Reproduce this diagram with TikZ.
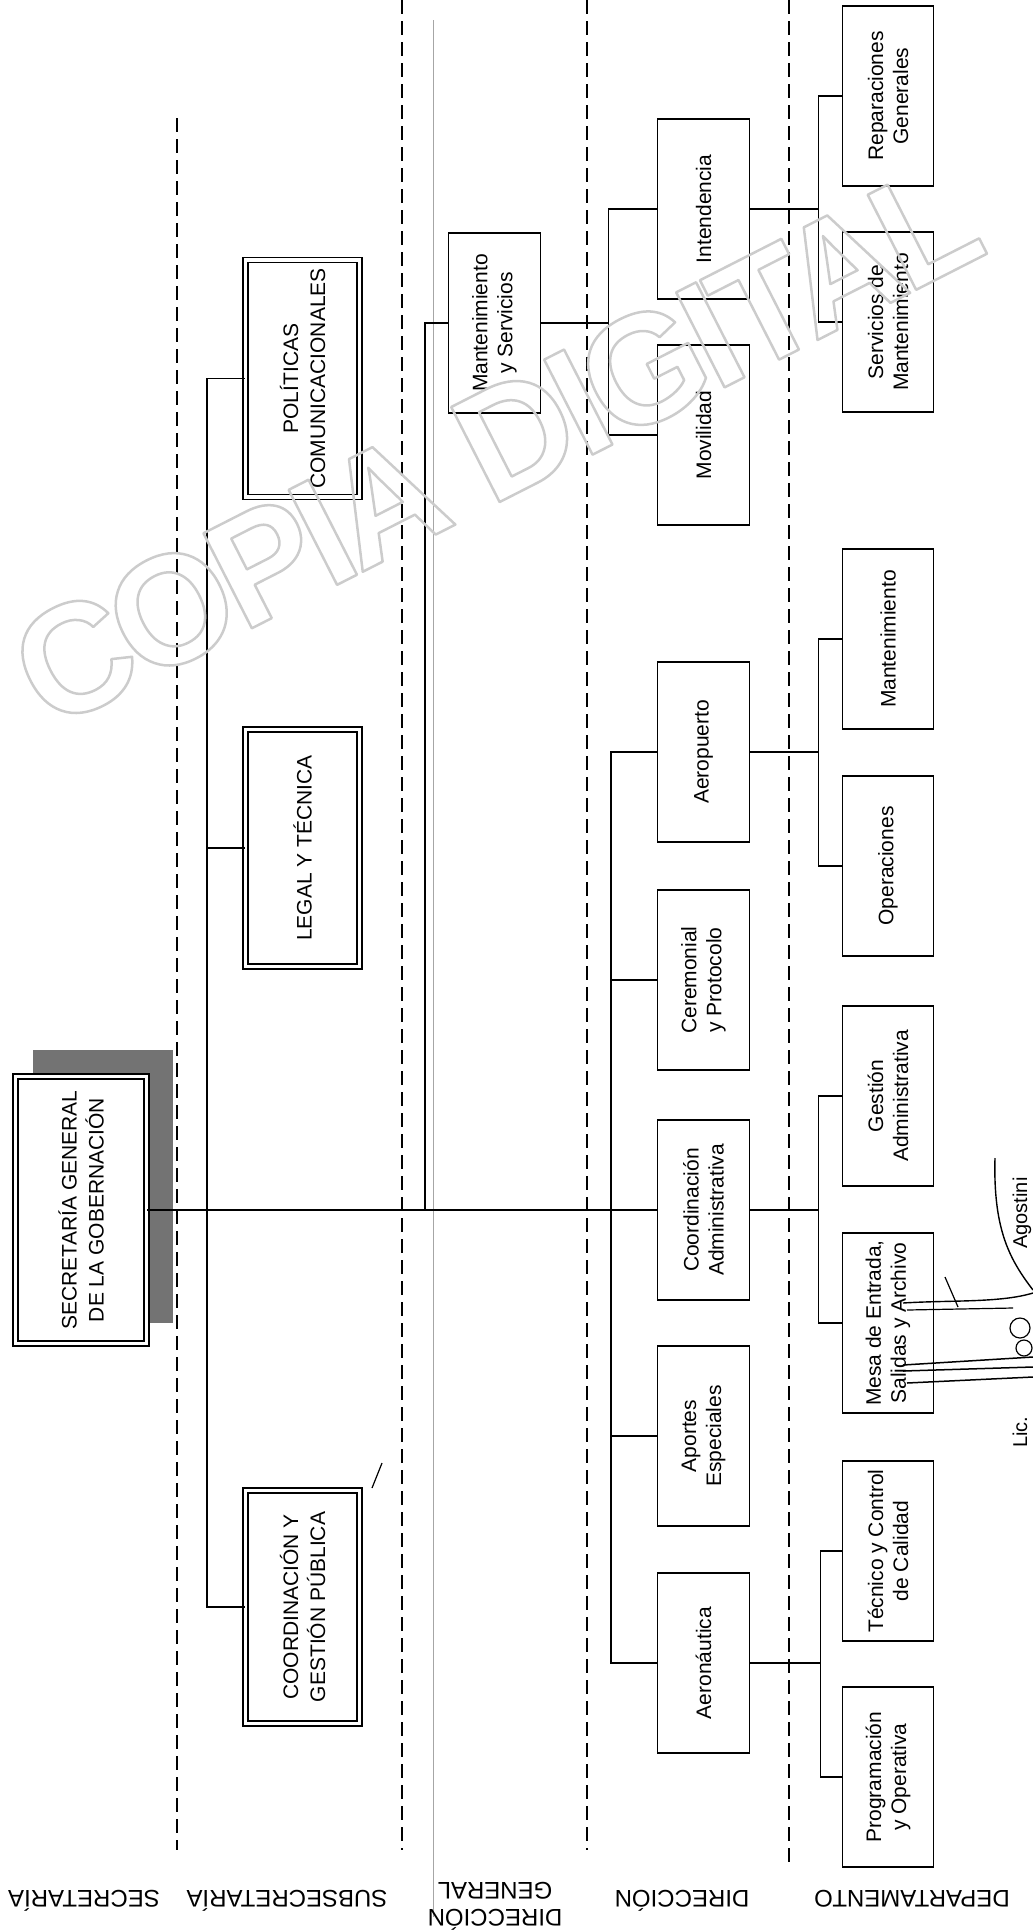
\documentclass[tikz,border=0pt]{standalone}
\usepackage{fontspec}
\setmainfont{Liberation Sans}
\begin{document}
\begin{tikzpicture}[x=1pt,y=-1pt,
  bx/.style={draw, line width=1.6pt, fill=white, rotate=90, align=center, inner sep=1pt,
     font=\fontsize{21}{25}\selectfont, minimum width=180pt, minimum height=91pt},
  dbx/.style={draw, double, double distance=3.6pt, line width=1.5pt, fill=white, rotate=90,
     align=center, inner sep=1pt, font=\fontsize{21}{27}\selectfont},
  conn/.style={line width=1.6pt},
  sepline/.style={line width=2pt, dash pattern=on 14pt off 7pt},
  lvl/.style={rotate=180, font=\fontsize{24}{27}\selectfont, inner sep=0pt},
  sig/.style={line width=1.2pt},
]
\useasboundingbox (0,0) rectangle (1033,1931);

% level separators
\coordinate (d1t) at (177,118);  \coordinate (d1b) at (177,1850);
\coordinate (d2t) at (402,0);    \coordinate (d2b) at (402,1850);
\coordinate (d3t) at (587,0);    \coordinate (d3b) at (587,1850);
\coordinate (d4t) at (789,0);    \coordinate (d4b) at (789,1862);
\draw[sepline] (d1t) -- (d1b);
\draw[sepline] (d2t) -- (d2b);
\draw[sepline] (d3t) -- (d3b);
\draw[sepline] (d4t) -- (d4b);
\draw[black!35, line width=0.6pt] (433,20) -- (433,1917);

% secretaria
\fill[black!55] (33,1050) rectangle (173,1323);
\node[dbx, minimum width=267pt, minimum height=131pt] (sec) at (81,1210) {SECRETARÍA GENERAL\\DE LA GOBERNACIÓN};

% subsecretarias
\node[dbx, minimum width=237pt, minimum height=114pt] (pol) at (302.5,378.5) {POLÍTICAS\\COMUNICACIONALES};
\node[dbx, minimum width=237pt, minimum height=114pt] (legal) at (302.5,848) {LEGAL Y TÉCNICA};
\node[dbx, minimum width=233pt, minimum height=114pt] (cgp) at (302.5,1607) {COORDINACIÓN Y\\GESTIÓN PÚBLICA};

% direccion general
\node[bx, minimum height=92pt] (mys) at (494.5,323) {Mantenimiento\\y Servicios};

% direcciones
\node[bx, minimum height=92pt] (intend) at (703.5,209) {Intendencia};
\node[bx, minimum height=92pt] (movil) at (703.5,435) {Movilidad};
\node[bx, minimum height=92pt] (aerop) at (703.5,752) {Aeropuerto};
\node[bx, minimum height=92pt] (cerem) at (703.5,980) {Ceremonial\\y Protocolo};
\node[bx, minimum height=92pt] (coordadm) at (703.5,1210) {Coordinación\\Administrativa};
\node[bx, minimum height=92pt] (aportes) at (703.5,1436) {Aportes\\Especiales};
\node[bx, minimum height=92pt] (aeron) at (703.5,1663) {Aeronáutica};

% departamentos
\node[bx] (repar) at (888,96) {Reparaciones\\Generales};
\node[bx] (servm) at (888,322) {Servicios de\\Mantenimiento};
\node[bx] (mant) at (888,639) {Mantenimiento};
\node[bx] (oper) at (888,866) {Operaciones};
\node[bx] (gestion) at (888,1096) {Gestión\\Administrativa};
\node[bx] (mesa) at (888,1323) {Mesa de Entrada,\\Salidas y Archivo};
\node[bx] (tecnico) at (888,1551) {Técnico y Control\\de Calidad};
\node[bx] (progr) at (888,1777) {Programación\\y Operativa};

% connectors
\draw[conn] (sec.south) -- (coordadm.north);
\draw[conn] (pol.north) -- ++(-38,0) coordinate (sb) |- (cgp.north);
\draw[conn] (legal.north) -- (legal.north -| sb);
\draw[conn] (mys.north) -- ++(-23,0) coordinate (dg) -- (dg |- sec.south);
\draw[conn] (mys.south) -- ++(67,0) coordinate (mb);
\draw[conn] (intend.north) -- (intend.north -| mb) -- (movil.north -| mb) -- (movil.north);
\draw[conn] (aerop.north) -- ++(-46,0) coordinate (db) |- (aeron.north);
\draw[conn] (cerem.north) -- (cerem.north -| db);
\draw[conn] (aportes.north) -- (aportes.north -| db);
\draw[conn] (intend.south) -- ++(68,0) coordinate (b1);
\draw[conn] (repar.north) -- (repar.north -| b1) -- (servm.north -| b1) -- (servm.north);
\draw[conn] (aerop.south) -- ++(68,0) coordinate (b2);
\draw[conn] (mant.north) -- (mant.north -| b2) -- (oper.north -| b2) -- (oper.north);
\draw[conn] (coordadm.south) -- ++(68,0) coordinate (b3);
\draw[conn] (gestion.north) -- (gestion.north -| b3) -- (mesa.north -| b3) -- (mesa.north);
\draw[conn] (aeron.south) -- ++(70,0) coordinate (b4);
\draw[conn] (tecnico.north) -- (tecnico.north -| b4) -- (progr.north -| b4) -- (progr.north);

% level labels
\node[lvl, anchor=base] (lsec) at (84,1890) {SECRETARÍA};
\node[lvl, anchor=base] (lsub) at (287,1890) {SUBSECRETARÍA};
\node[lvl, align=center] (ldg) at (495,1906) {DIRECCIÓN\\GENERAL};
\node[lvl, anchor=base] (ldir) at (682,1890) {DIRECCIÓN};
\node[lvl, anchor=base] (ldep) at (912,1890) {DEPARTAMENTO};

% marks and signature
\draw[sig] (372,1488) -- (382,1463);
\node[rotate=90, anchor=base, font=\fontsize{20}{24}\selectfont, inner sep=0pt] (nm1) at (1027,1213) {Agostini};
\node[rotate=90, anchor=base, font=\fontsize{20}{24}\selectfont, inner sep=0pt] (nm2) at (1027,1432) {Lic.};
\draw[sig, line width=1.4pt] (995,1158) .. controls (993,1230) and (1010,1260) .. (1033,1290);
\draw[sig, line width=1.4pt] (903,1303) .. controls (950,1300) and (1000,1303) .. (1033,1293);
\draw[sig] (945,1277) -- (958,1307);
\draw[sig] (907,1310) -- (1013,1308);
\draw[sig] (1020,1328) circle (10pt);
\draw[sig] (1024,1348) circle (8pt);
\draw[sig, line width=1.5pt] (903,1365) -- (1033,1357);
\draw[sig, line width=1.5pt] (903,1371) -- (1033,1367);
\draw[sig, line width=1.5pt] (907,1383) -- (1033,1377);

% watermark
\node[rotate=27, text=black!20, inner sep=0pt] (wm) at (496,444)
  {\fontsize{155}{155}\selectfont\bfseries\addfontfeatures{LetterSpace=-5}\special{pdf:literal direct q 1 Tr 2.5 w 1 j 0.8 G}COPIA DIGITAL\special{pdf:literal direct Q}};
\end{tikzpicture}
\end{document}
